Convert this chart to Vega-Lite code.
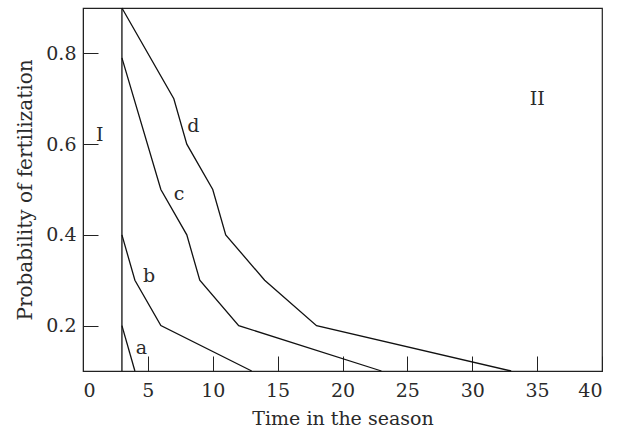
{
  "$schema": "https://vega.github.io/schema/vega-lite/v6.json",
  "width": 519,
  "height": 363,
  "autosize": "none",
  "padding": {"left": 83, "top": 8, "right": 21, "bottom": 59},
  "config": {
    "view": {"stroke": "#222", "strokeWidth": 1.2},
    "font": "DejaVu Serif",
    "axis": {
      "labelFont": "DejaVu Serif",
      "titleFont": "DejaVu Serif",
      "labelFontSize": 19,
      "titleFontSize": 20,
      "titleFontWeight": "normal",
      "labelColor": "#2a2a2a",
      "titleColor": "#2a2a2a",
      "domainColor": "#222",
      "tickColor": "#222",
      "grid": false
    }
  },
  "datasets": {
    "curves": [
      {"series": "a", "order": 1, "time": 3, "prob": 0.2},
      {"series": "a", "order": 2, "time": 4, "prob": 0.1},
      {"series": "b", "order": 1, "time": 3, "prob": 0.4},
      {"series": "b", "order": 2, "time": 4, "prob": 0.3},
      {"series": "b", "order": 3, "time": 6, "prob": 0.2},
      {"series": "b", "order": 4, "time": 13, "prob": 0.1},
      {"series": "c", "order": 1, "time": 3, "prob": 0.79},
      {"series": "c", "order": 2, "time": 6, "prob": 0.5},
      {"series": "c", "order": 3, "time": 8, "prob": 0.4},
      {"series": "c", "order": 4, "time": 9, "prob": 0.3},
      {"series": "c", "order": 5, "time": 12, "prob": 0.2},
      {"series": "c", "order": 6, "time": 23, "prob": 0.1},
      {"series": "d", "order": 1, "time": 3, "prob": 0.9},
      {"series": "d", "order": 2, "time": 7, "prob": 0.7},
      {"series": "d", "order": 3, "time": 8, "prob": 0.6},
      {"series": "d", "order": 4, "time": 10, "prob": 0.5},
      {"series": "d", "order": 5, "time": 11, "prob": 0.4},
      {"series": "d", "order": 6, "time": 14, "prob": 0.3},
      {"series": "d", "order": 7, "time": 18, "prob": 0.2},
      {"series": "d", "order": 8, "time": 33, "prob": 0.1},
      {"series": "boundary", "order": 1, "time": 3, "prob": 0.1},
      {"series": "boundary", "order": 2, "time": 3, "prob": 0.9}
    ],
    "labels": [
      {"text": "I", "time": 1.3, "prob": 0.62},
      {"text": "II", "time": 35, "prob": 0.7},
      {"text": "a", "time": 4.5, "prob": 0.15},
      {"text": "b", "time": 5.1, "prob": 0.31},
      {"text": "c", "time": 7.4, "prob": 0.49},
      {"text": "d", "time": 8.5, "prob": 0.64}
    ]
  },
  "layer": [
    {
      "data": {"name": "curves"},
      "mark": {"type": "line", "color": "#111", "strokeWidth": 1.3},
      "encoding": {
        "x": {
          "field": "time", "type": "quantitative",
          "scale": {"domain": [0, 40], "nice": false},
          "axis": {"title": "Time in the season", "values": [0, 5, 10, 15, 20, 25, 30, 35, 40], "tickSize": -15, "labelPadding": 25, "titlePadding": 9, "titleFontSize": 19}
        },
        "y": {
          "field": "prob", "type": "quantitative",
          "scale": {"domain": [0.1, 0.9], "nice": false, "zero": false},
          "axis": {"title": "Probability of fertilization", "values": [0.2, 0.4, 0.6, 0.8], "format": ".1f", "tickSize": -15, "labelPadding": 22, "titlePadding": 10}
        },
        "detail": {"field": "series"},
        "order": {"field": "order"}
      }
    },
    {
      "data": {"name": "labels"},
      "mark": {"type": "text", "font": "DejaVu Serif", "fontSize": 19, "color": "#2a2a2a", "align": "center", "baseline": "middle"},
      "encoding": {
        "x": {"field": "time", "type": "quantitative"},
        "y": {"field": "prob", "type": "quantitative"},
        "text": {"field": "text"}
      }
    }
  ]
}
